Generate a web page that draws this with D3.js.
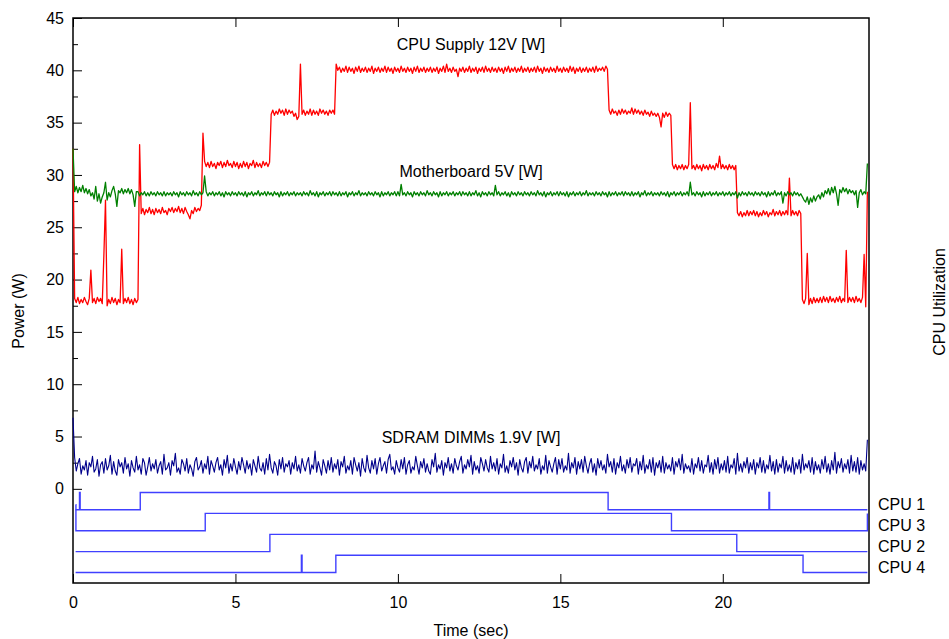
<!DOCTYPE html>
<html>
<head>
<meta charset="utf-8">
<script src="https://cdn.jsdelivr.net/npm/d3@7"></script>
<style>
  body { margin: 0; background: #fff; }
  svg { display: block; }
  text { font-family: "Liberation Sans", Arial, sans-serif; font-size: 16px; fill: #000; }
</style>
</head>
<body>
<svg id="chart" width="949" height="639"></svg>
<script>
// Power samples, one every 50 ms, in watts.
const sampleInterval = 0.05;

const cpuSupply12V = [
  32.5, 18.2, 17.8, 18.3, 17.7, 18.1, 17.8, 18.3, 17.9, 17.6, 18.2, 20.9, 17.8, 18.2, 17.7, 18.3, 17.9, 18.2, 17.7, 22.3,
  27.6, 17.5, 18.1, 17.7, 18.3, 17.8, 18.2, 17.6, 18.1, 17.8, 22.9, 17.7, 18.2, 17.8, 18.3, 17.7, 18.1, 17.6, 18.2, 17.8,
  18.1, 32.9, 26.3, 26.8, 26.2, 26.7, 26.4, 26.9, 26.3, 26.7, 26.2, 26.8, 26.4, 26.7, 26.3, 26.9, 26.4, 26.6, 26.2, 26.8,
  26.5, 26.9, 26.4, 26.8, 26.5, 27.0, 26.4, 26.8, 26.3, 26.9, 26.5, 26.2, 25.8, 26.6, 26.3, 26.9, 26.5, 26.8, 26.6, 27.1,
  34.0, 31.3, 30.8, 31.2, 30.7, 31.3, 30.8, 31.1, 30.6, 31.2, 30.9, 31.3, 30.7, 31.2, 30.8, 31.4, 30.9, 31.1, 30.7, 31.3,
  30.8, 31.2, 30.6, 31.1, 30.7, 31.3, 30.8, 31.2, 30.6, 31.1, 30.9, 31.4, 30.7, 31.2, 30.8, 31.1, 30.7, 31.3, 30.9, 31.2,
  30.8, 31.2, 35.8, 36.2, 35.7, 36.1, 35.8, 36.3, 35.9, 36.2, 35.7, 36.3, 35.8, 36.2, 35.9, 36.1, 35.6, 35.9, 35.3, 35.6,
  40.6, 35.8, 36.2, 35.7, 36.1, 35.8, 36.3, 35.7, 36.2, 35.8, 36.1, 35.7, 36.3, 35.9, 36.2, 35.8, 36.1, 35.7, 36.2, 35.9,
  36.2, 35.8, 40.6, 40.0, 40.3, 39.8, 40.2, 39.9, 40.4, 39.8, 40.3, 39.9, 40.2, 39.7, 40.3, 39.9, 40.4, 39.8, 40.2, 39.9,
  40.3, 39.8, 40.2, 39.9, 40.4, 39.7, 40.2, 39.9, 40.3, 39.8, 40.2, 39.9, 40.4, 39.8, 40.3, 39.9, 40.2, 39.7, 40.3, 39.9,
  40.2, 39.8, 40.4, 39.9, 40.2, 39.8, 40.3, 39.9, 40.2, 39.7, 40.3, 39.9, 40.4, 39.8, 40.2, 39.9, 40.3, 39.8, 40.2, 39.9,
  40.3, 39.8, 40.2, 39.9, 40.3, 39.7, 40.2, 39.9, 40.4, 39.8, 40.6, 39.9, 40.2, 39.8, 40.3, 39.9, 40.1, 39.4, 40.2, 39.9,
  40.3, 39.8, 40.2, 39.9, 40.4, 39.8, 40.2, 39.9, 40.3, 39.7, 40.2, 39.9, 40.3, 39.8, 40.4, 39.9, 40.2, 39.8, 40.3, 39.9,
  40.2, 39.8, 40.3, 39.9, 40.2, 39.7, 40.3, 39.9, 40.4, 39.8, 40.2, 39.9, 40.3, 39.8, 40.2, 39.9, 40.4, 39.8, 40.2, 39.9,
  40.3, 39.8, 40.2, 39.9, 40.3, 39.8, 40.4, 39.9, 40.2, 39.7, 40.3, 39.9, 40.2, 39.8, 40.3, 39.9, 40.2, 39.8, 40.4, 39.9,
  40.2, 39.8, 40.3, 39.9, 40.2, 39.8, 40.4, 39.9, 40.3, 39.7, 40.2, 39.9, 40.3, 39.8, 40.2, 39.9, 40.3, 39.8, 40.2, 39.9,
  40.3, 39.8, 40.4, 39.9, 40.2, 40.0, 40.3, 39.9, 40.4, 40.1, 36.2, 35.8, 36.3, 35.9, 36.1, 35.7, 36.2, 35.8, 36.3, 35.9,
  36.2, 35.8, 36.1, 35.9, 36.4, 35.8, 36.3, 35.9, 36.2, 35.8, 36.1, 35.7, 36.2, 35.8, 36.0, 35.6, 36.1, 35.7, 35.9, 35.6,
  35.9, 35.5, 34.6, 35.9, 35.5, 36.0, 35.6, 35.9, 35.7, 31.0, 30.6, 31.0, 30.5, 30.9, 30.6, 31.0, 30.5, 30.9, 30.6, 31.0,
  36.9, 30.6, 30.9, 30.5, 31.0, 30.6, 30.9, 30.4, 31.0, 30.6, 30.9, 30.5, 31.0, 30.6, 30.9, 30.5, 31.1, 30.7, 31.8, 30.6,
  31.0, 30.6, 30.9, 30.5, 31.0, 30.6, 30.9, 30.5, 30.9, 26.4, 26.1, 26.5, 26.0, 26.4, 26.1, 26.6, 26.1, 26.5, 26.2, 26.6,
  26.1, 26.5, 26.0, 26.4, 26.1, 26.6, 26.2, 26.5, 26.0, 26.4, 26.2, 26.7, 26.1, 26.5, 26.2, 26.6, 26.1, 26.5, 26.2, 26.6,
  26.2, 29.7, 26.1, 26.6, 26.2, 26.5, 26.1, 26.6, 26.3, 18.1, 17.7, 18.2, 22.5, 17.6, 18.2, 17.7, 18.3, 17.8, 18.2, 17.8,
  18.3, 17.8, 18.4, 17.9, 18.3, 17.8, 18.4, 17.9, 18.2, 17.8, 18.3, 17.9, 18.4, 17.8, 18.2, 17.9, 22.8, 17.8, 18.3, 17.9,
  18.3, 17.8, 18.4, 17.9, 18.2, 17.8, 18.3, 22.4, 17.4, 28.4
];

const motherboard5V = [
  32.5, 28.4, 28.9, 28.3, 28.8, 28.4, 29.0, 28.3, 28.7, 28.2, 28.6, 28.0, 28.3, 27.7, 28.9, 27.5, 28.2, 27.3, 27.9, 28.3,
  29.3, 27.6, 28.3, 27.9, 28.5, 28.9, 28.2, 27.0, 28.5, 28.3, 28.7, 28.2, 28.6, 28.3, 28.7, 28.2, 28.6, 28.1, 27.0, 28.4,
  28.4, 28.0, 28.3, 28.1, 28.4, 28.0, 28.3, 28.0, 28.4, 28.1, 28.3, 28.0, 28.4, 28.1, 28.3, 28.0, 28.4, 28.0, 28.3, 28.1,
  28.3, 28.0, 28.4, 28.1, 28.3, 27.9, 28.4, 28.1, 28.3, 28.0, 28.4, 28.1, 28.3, 28.0, 28.5, 28.1, 28.3, 28.0, 28.4, 28.1,
  28.3, 29.9, 28.4, 28.0, 28.3, 28.1, 28.4, 28.0, 28.3, 28.1, 28.4, 28.0, 28.3, 27.9, 28.4, 28.1, 28.3, 28.0, 28.4, 28.1,
  28.3, 28.0, 28.4, 28.1, 28.3, 28.0, 28.4, 27.9, 28.3, 28.1, 28.4, 28.0, 28.3, 28.1, 28.5, 28.0, 28.3, 28.1, 28.4, 28.0,
  28.4, 28.1, 28.3, 28.0, 28.4, 28.1, 28.3, 27.9, 28.4, 28.0, 28.3, 28.1, 28.4, 28.0, 28.3, 28.1, 28.4, 28.0, 28.3, 28.1,
  28.3, 28.0, 28.4, 28.1, 28.3, 28.0, 28.5, 28.1, 28.3, 28.0, 28.4, 27.9, 28.3, 28.1, 28.4, 28.0, 28.3, 28.1, 28.4, 28.0,
  28.4, 28.1, 28.3, 28.0, 28.4, 28.0, 28.3, 28.1, 28.4, 27.9, 28.3, 28.1, 28.4, 28.0, 28.3, 28.1, 28.5, 28.0, 28.3, 28.1,
  28.3, 28.0, 28.4, 28.1, 28.3, 28.0, 28.4, 28.1, 28.3, 27.9, 28.4, 28.0, 28.3, 28.1, 28.4, 28.0, 28.3, 28.1, 28.4, 28.0,
  28.4, 28.0, 29.1, 28.1, 28.3, 28.0, 28.4, 28.1, 28.3, 27.9, 28.4, 28.1, 28.3, 28.0, 28.4, 28.1, 28.3, 28.0, 28.5, 28.1,
  28.3, 28.0, 28.4, 28.1, 28.3, 27.9, 28.4, 28.0, 28.3, 28.1, 28.4, 28.0, 28.3, 28.1, 28.4, 28.0, 28.3, 28.1, 28.4, 28.0,
  28.4, 28.1, 28.3, 28.0, 28.4, 28.0, 28.3, 28.1, 28.5, 28.0, 28.3, 27.9, 28.4, 28.1, 28.3, 28.0, 28.4, 28.1, 28.3, 28.0,
  29.0, 28.1, 28.4, 28.0, 28.3, 28.1, 28.4, 28.0, 28.3, 27.9, 28.4, 28.1, 28.3, 28.0, 28.4, 28.1, 28.3, 28.0, 28.4, 28.1,
  28.3, 28.0, 28.4, 28.1, 28.3, 28.0, 28.5, 28.1, 28.3, 28.0, 28.4, 27.9, 28.3, 28.1, 28.4, 28.0, 28.3, 28.1, 28.4, 28.0,
  28.4, 28.1, 28.3, 28.0, 28.4, 27.9, 28.3, 28.1, 28.4, 28.0, 28.3, 28.1, 28.4, 28.0, 28.3, 28.1, 28.5, 28.0, 28.3, 28.1,
  28.3, 28.0, 28.4, 28.1, 28.3, 28.0, 28.4, 28.1, 28.3, 27.9, 28.4, 28.0, 28.3, 28.1, 28.4, 28.0, 28.3, 28.1, 28.4, 28.0,
  28.4, 28.1, 28.3, 28.0, 28.4, 28.0, 28.3, 28.1, 28.4, 27.9, 28.3, 28.1, 28.5, 28.0, 28.3, 28.1, 28.4, 28.0, 28.3, 28.1,
  28.3, 28.0, 28.4, 28.1, 28.3, 28.0, 28.4, 27.9, 28.3, 28.1, 28.4, 28.0, 28.3, 28.1, 28.4, 28.0, 28.3, 28.1, 28.4, 28.0,
  29.3, 28.1, 28.3, 28.0, 28.4, 28.1, 28.3, 27.9, 28.4, 28.0, 28.3, 28.1, 28.4, 28.0, 28.3, 28.1, 28.4, 28.0, 28.3, 28.1,
  28.4, 28.0, 28.3, 28.1, 28.4, 28.0, 28.3, 28.1, 28.4, 27.8, 28.3, 28.0, 28.4, 28.1, 28.3, 28.0, 28.4, 28.1, 28.3, 28.0,
  28.4, 28.1, 28.3, 28.0, 28.4, 28.1, 28.3, 27.9, 28.4, 28.0, 28.3, 28.1, 28.5, 28.0, 28.3, 28.1, 28.4, 27.3, 28.3, 28.0,
  28.4, 28.1, 28.3, 28.0, 28.4, 28.1, 28.3, 28.0, 28.2, 27.9, 27.6, 27.4, 27.9, 27.2, 27.8, 27.4, 28.0, 27.5, 27.9, 28.1,
  27.7, 28.3, 27.9, 28.5, 28.2, 28.7, 28.1, 28.8, 28.3, 28.9, 28.2, 27.1, 28.6, 28.3, 28.8, 28.4, 28.7, 28.2, 28.6, 28.3,
  28.5, 28.1, 28.5, 26.9, 28.3, 28.6, 28.1, 28.4, 28.2, 31.1
];

const sdramDimms19V = [
  6.8, 3.0, 1.7, 2.4, 2.9, 1.4, 2.2, 1.8, 2.7, 1.3, 2.5, 2.1, 3.1, 1.6, 1.9, 2.8, 1.2, 2.3, 2.6, 1.5,
  2.9, 1.8, 2.2, 3.2, 1.4, 2.6, 1.7, 1.3, 2.8, 2.1, 2.5, 1.5, 3.0, 1.9, 2.4, 1.2, 2.7, 2.0, 1.6, 3.1,
  1.8, 2.3, 1.4, 2.9, 2.5, 1.3, 2.1, 3.0, 1.7, 2.4, 1.9, 2.8, 1.5, 2.2, 2.6, 1.4, 3.3, 1.8, 2.0, 2.5,
  1.3, 2.7, 2.2, 3.4, 1.6, 2.0, 1.4, 2.8, 2.4, 1.7, 2.9, 1.5, 2.3, 1.9, 1.2, 2.6, 3.0, 1.8, 2.1, 2.7,
  1.5, 2.4, 1.9, 3.1, 1.4, 2.7, 2.2, 1.6, 2.5, 3.0, 1.8, 2.3, 1.3, 2.8, 2.0, 3.2, 1.5, 2.4, 1.7, 2.9,
  2.1, 1.4, 2.6, 1.8, 3.0, 2.3, 1.5, 2.7, 1.9, 2.4, 1.3, 2.8, 2.2, 1.6, 3.1, 2.0, 1.7, 2.5, 1.4, 2.9,
  1.8, 3.3, 2.0, 1.5, 2.6, 2.2, 1.3, 2.8, 1.9, 3.0, 1.6, 2.4, 2.1, 2.7, 1.4, 2.5, 1.9, 3.1, 1.7, 2.3,
  1.5, 2.9, 2.2, 1.7, 2.5, 3.0, 1.4, 2.3, 1.9, 3.6, 1.6, 2.6, 2.0, 1.3, 2.8, 2.2, 1.5, 2.7, 1.8, 3.0,
  1.6, 2.4, 1.9, 2.8, 1.3, 2.6, 2.1, 3.1, 1.5, 2.2, 1.8, 2.7, 1.4, 3.0, 2.3, 1.7, 2.5, 1.2, 2.9, 2.0,
  1.6, 3.2, 2.0, 1.5, 2.7, 1.9, 2.9, 1.4, 2.4, 3.0, 1.7, 2.2, 2.6, 1.5, 2.8, 3.3, 1.8, 2.1, 1.4, 2.7,
  2.0, 1.6, 2.8, 1.9, 3.0, 1.4, 2.3, 2.7, 1.5, 2.1, 1.8, 3.1, 2.2, 1.4, 2.6, 2.0, 2.9, 1.6, 2.4, 1.7,
  1.4, 2.8, 2.1, 3.4, 1.6, 2.3, 1.9, 2.7, 1.3, 2.5, 2.0, 3.0, 1.7, 2.4, 1.5, 2.9, 2.2, 1.8, 2.6, 3.1,
  1.5, 2.3, 1.9, 2.8, 2.1, 3.2, 1.4, 2.6, 1.8, 2.2, 1.5, 3.0, 2.4, 1.7, 2.8, 2.0, 1.6, 3.1, 1.9, 2.5,
  1.7, 2.9, 1.4, 2.4, 2.0, 3.3, 1.6, 2.2, 1.5, 2.7, 2.1, 3.0, 1.8, 2.5, 1.3, 2.8, 2.0, 1.6, 2.6, 3.0,
  1.5, 2.6, 2.0, 3.1, 1.7, 2.3, 1.9, 2.9, 1.4, 2.2, 1.8, 3.2, 1.5, 2.7, 2.1, 1.6, 2.4, 3.0, 1.4, 2.8,
  1.9, 2.9, 1.6, 2.2, 1.8, 3.4, 1.5, 2.5, 2.0, 3.0, 1.4, 2.6, 1.9, 2.8, 1.6, 3.1, 2.2, 1.5, 2.4, 2.9,
  1.6, 2.4, 1.3, 2.9, 2.0, 2.7, 1.8, 2.3, 1.5, 3.3, 2.1, 2.6, 1.6, 2.9, 1.4, 2.5, 2.0, 3.1, 1.7, 2.3,
  1.5, 2.8, 2.0, 3.0, 1.6, 2.4, 2.2, 2.9, 1.4, 2.6, 1.8, 3.2, 1.5, 2.3, 1.9, 2.8, 1.6, 3.0, 1.3, 2.5,
  2.0, 2.7, 1.6, 3.1, 1.5, 2.5, 1.9, 2.3, 1.7, 3.0, 1.4, 2.6, 2.1, 2.9, 1.8, 3.3, 1.5, 2.4, 1.9, 2.2,
  1.6, 2.9, 1.4, 2.4, 2.0, 3.0, 1.7, 2.7, 1.5, 2.3, 2.1, 3.2, 1.6, 2.5, 1.4, 2.8, 1.9, 3.0, 1.5, 2.4,
  1.8, 2.7, 1.6, 3.1, 1.5, 2.3, 2.0, 2.9, 1.4, 3.4, 1.7, 2.4, 1.6, 2.6, 2.0, 3.0, 1.5, 2.5, 1.8, 2.8,
  1.4, 2.5, 2.0, 3.0, 1.6, 2.7, 1.5, 2.3, 1.9, 3.2, 1.7, 2.6, 1.4, 2.8, 1.6, 2.4, 2.0, 3.1, 1.5, 2.7,
  1.7, 2.3, 1.6, 3.0, 1.4, 2.5, 1.9, 2.8, 1.5, 3.3, 1.8, 2.4, 2.0, 2.7, 1.6, 3.0, 1.4, 2.6, 1.8, 2.3,
  1.5, 2.8, 1.9, 3.1, 1.6, 2.4, 1.4, 2.7, 1.8, 3.5, 1.5, 2.6, 2.0, 2.9, 1.6, 2.4, 1.9, 2.8, 1.5, 3.2,
  1.7, 2.6, 1.6, 3.0, 1.4, 2.7, 1.8, 2.4, 1.7, 4.7
];

// CPU utilization as [time (s), utilization (%)] change points.
const cpu1Utilization = [[0.08, 0], [0.2, 100], [0.22, 0], [2.07, 100], [16.47, 0], [21.42, 100], [21.44, 0], [24.45, 0]];
const cpu3Utilization = [[0.08, 150], [0.09, 0], [4.07, 100], [18.42, 0], [24.44, 0], [24.45, 100]];
const cpu2Utilization = [[0.08, 0], [6.06, 100], [20.43, 0], [24.45, 0]];
const cpu4Utilization = [[0.08, 0], [7.03, 100], [7.05, 0], [8.09, 100], [22.47, 0], [24.45, 0]];

const cpuNames = ["CPU 1", "CPU 3", "CPU 2", "CPU 4"];
const seriesNames = ["CPU Supply 12V [W]", "Motherboard 5V [W]", "SDRAM DIMMs 1.9V [W]"];
const xTickValues = [0, 5, 10, 15, 20];
const yTickValues = [0, 5, 10, 15, 20, 25, 30, 35, 40, 45];
const yMinorTickValues = [2.5, 7.5, 12.5, 17.5, 22.5, 27.5, 32.5, 37.5, 42.5];

// ---- layout ----
const plot = { left: 73, right: 869, top: 18, bottom: 583 };
const svg = d3.select("#chart");

const x = d3.scaleLinear().domain([0, 24.5]).range([plot.left, plot.right]);
const y = d3.scaleLinear().domain([-9, 45]).range([plot.bottom, plot.top]);

// Frame
svg.append("rect")
  .attr("x", plot.left).attr("y", plot.top)
  .attr("width", plot.right - plot.left).attr("height", plot.bottom - plot.top)
  .attr("fill", "none").attr("stroke", "#000").attr("stroke-width", 1.5);

function styleAxis(g) {
  g.select(".domain").remove();
  g.attr("font-family", "Liberation Sans, Arial, sans-serif").attr("font-size", 16);
  g.selectAll("line").attr("stroke", "#000");
  g.selectAll("text").attr("fill", "#000");
}

svg.append("g").attr("transform", `translate(${plot.left},0)`)
  .call(d3.axisLeft(y).tickValues(yTickValues).tickSize(-9).tickPadding(9).tickFormat(d3.format("d")))
  .call(styleAxis);
svg.append("g").attr("transform", `translate(${plot.left},0)`)
  .call(d3.axisLeft(y).tickValues(yMinorTickValues).tickSize(-5).tickFormat(""))
  .call(styleAxis);
svg.append("g").attr("transform", `translate(0,${plot.bottom})`)
  .call(d3.axisBottom(x).tickValues(xTickValues).tickSize(-9).tickPadding(14).tickFormat(d3.format("d")))
  .call(styleAxis);
svg.append("g").attr("transform", `translate(0,${plot.top})`)
  .call(d3.axisTop(x).tickValues(xTickValues).tickSize(-9).tickFormat(""))
  .call(styleAxis);

// Axis titles
svg.append("text").attr("x", (plot.left + plot.right) / 2).attr("y", 636)
  .attr("text-anchor", "middle").text("Time (sec)");
svg.append("text").attr("transform", "translate(24,311) rotate(-90)")
  .attr("text-anchor", "middle").text("Power (W)");
svg.append("text").attr("transform", "translate(945,302) rotate(-90)")
  .attr("text-anchor", "middle").text("CPU Utilization");

// Power traces
const powerLine = d3.line()
  .x((d, i) => x(i * sampleInterval))
  .y(d => y(d));

const traces = [
  { values: cpuSupply12V, color: "#ff0000", width: 1.3 },
  { values: motherboard5V, color: "#008000", width: 1.3 },
  { values: sdramDimms19V, color: "#00008b", width: 1.1 }
];
traces.forEach(s => {
  svg.append("path").datum(s.values)
    .attr("d", powerLine)
    .attr("fill", "none").attr("stroke", s.color)
    .attr("stroke-width", s.width).attr("stroke-linejoin", "round");
});

// Series labels
const seriesLabelLevels = [41.9, 29.8, 4.4];
seriesNames.forEach((name, i) => {
  svg.append("text").attr("x", (plot.left + plot.right) / 2).attr("y", y(seriesLabelLevels[i]))
    .attr("text-anchor", "middle").text(name);
});

// CPU utilization strips below zero, one 2-unit band per CPU
const bandBases = [-2, -4, -6, -8];
const bandHeight = 1.65;
const cpuSeries = [cpu1Utilization, cpu3Utilization, cpu2Utilization, cpu4Utilization];
cpuSeries.forEach((series, k) => {
  const line = d3.line()
    .curve(d3.curveStepAfter)
    .x(d => x(d[0]))
    .y(d => y(bandBases[k] + d[1] / 100 * bandHeight));
  svg.append("path").datum(series)
    .attr("d", line)
    .attr("fill", "none").attr("stroke", "#4040ff").attr("stroke-width", 1.4);
  svg.append("text").attr("x", plot.right + 9).attr("y", y(bandBases[k]))
    .text(cpuNames[k]);
});
</script>
</body>
</html>
